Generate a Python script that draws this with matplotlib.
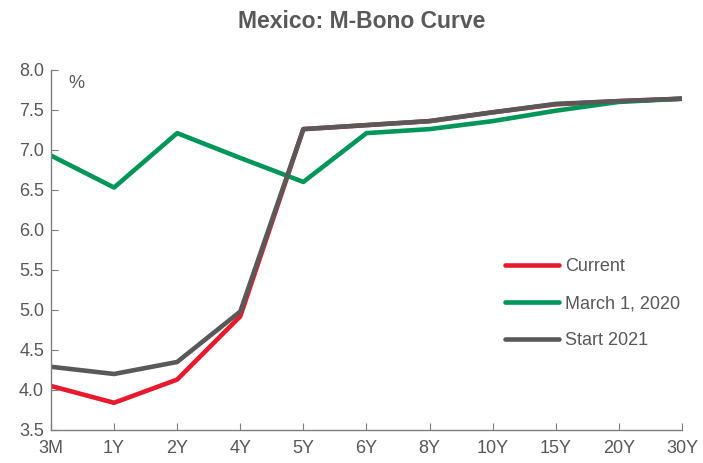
import matplotlib
matplotlib.use("Agg")
import matplotlib.pyplot as plt

tenors = ["3M", "1Y", "2Y", "4Y", "5Y", "6Y", "8Y", "10Y", "15Y", "20Y", "30Y"]
current = [4.05, 3.84, 4.13, 4.92, 7.26, 7.31, 7.36, 7.47, 7.57, 7.61, 7.64]
march_2020 = [6.93, 6.53, 7.21, 6.90, 6.60, 7.21, 7.26, 7.36, 7.49, 7.60, 7.64]
start_2021 = [4.29, 4.20, 4.35, 4.98, 7.26, 7.31, 7.36, 7.47, 7.575, 7.61, 7.64]

plt.rcParams['font.family'] = ['Liberation Sans', 'DejaVu Sans']
txt = "#595959"

fig = plt.figure(figsize=(7.03, 4.63), dpi=100)
ax = fig.add_axes([0.0725, 0.0713, 0.8975, 0.7777])
x = list(range(len(tenors)))
ax.plot(x, current, color="#E8192C", lw=3.3, label="Current", solid_capstyle="round")
ax.plot(x, march_2020, color="#00965A", lw=3.3, label="March 1, 2020", solid_capstyle="round")
ax.plot(x, start_2021, color="#595959", lw=3.3, label="Start 2021", solid_capstyle="round")

ax.set_xlim(0, len(tenors) - 1)
ax.set_ylim(3.5, 8.0)
ax.set_xticks(x)
ax.set_xticklabels(tenors)
ax.set_yticks([3.5, 4.0, 4.5, 5.0, 5.5, 6.0, 6.5, 7.0, 7.5, 8.0])
ax.set_yticklabels([f"{v:.1f}" for v in ax.get_yticks()])
for s in ["top", "right"]:
    ax.spines[s].set_visible(False)
for s in ["left", "bottom"]:
    ax.spines[s].set_color("#7f7f7f")
    ax.spines[s].set_linewidth(1)
ax.tick_params(axis="both", direction="in", colors="#7f7f7f", labelcolor=txt, labelsize=13, length=5)
ax.tick_params(axis="x", pad=7)
ax.tick_params(axis="y", pad=5)
ax.text(0.027, 0.985, "%", transform=ax.transAxes, ha="left", va="top", color=txt, fontsize=13)

ax.legend(loc="upper left", bbox_to_anchor=(0.72, 0.477), frameon=False, fontsize=13,
          labelcolor=txt, handlelength=3.0, handletextpad=0.3, labelspacing=1.1,
          borderaxespad=0, borderpad=0)

fig.suptitle("Mexico: M-Bono Curve", x=0.514, y=0.978, fontsize=16.5, fontweight="bold", color=txt)
fig.savefig("out.png", dpi=100)
